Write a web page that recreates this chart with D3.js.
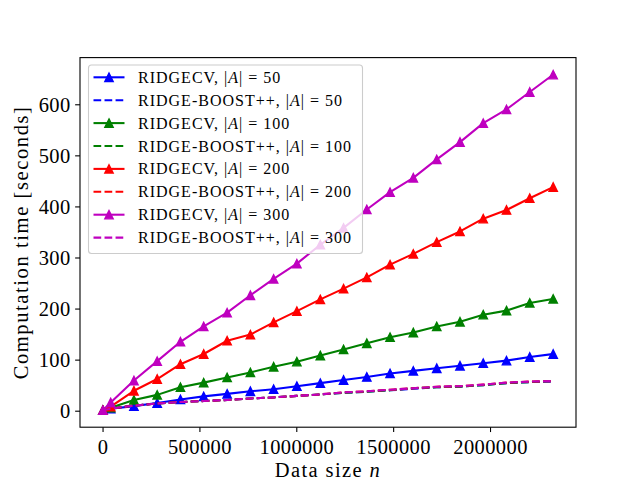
<!DOCTYPE html>
<html><head><meta charset="utf-8">
<script src="https://cdn.jsdelivr.net/npm/d3@7"></script>
<style>
body{margin:0;background:#fff}
svg{display:block}
text{font-family:"Liberation Serif","DejaVu Serif",serif;fill:#000}
</style>
</head><body>
<svg id="c" width="640" height="480"></svg>
<script>
// ---- data ----
const dataSize = [2000, 42000, 162000, 282000, 402000, 522000, 643000, 763000, 883000, 1003000,
  1124000, 1244000, 1364000, 1484000, 1604000, 1725000, 1845000, 1965000, 2085000, 2205000, 2326000];
const ridgecv50   = [1, 4, 9, 15, 22, 28, 33, 38, 42, 48, 54, 60, 66, 73, 78, 83, 88, 93, 98, 105, 111];
const boost50     = [1, 4, 10, 14, 17, 19, 21, 24, 26, 29, 32, 35, 37, 40, 43, 46, 47, 50, 54, 56, 57];
const ridgecv100  = [1, 6, 21, 31, 46, 55, 65, 75, 86, 96, 108, 120, 132, 144, 153, 165, 174, 188, 196, 211, 219];
const boost100    = [1, 4, 10, 14, 17, 19, 21, 24, 26, 29, 32, 35, 37, 40, 44, 46, 47, 50, 54, 56, 58];
const ridgecv200  = [1, 8, 39, 62, 91, 111, 137, 149, 173, 195, 218, 239, 261, 286, 307, 330, 351, 376, 393, 416, 438];
const boost200    = [1, 4, 10, 14, 17, 19, 21, 24, 26, 29, 32, 36, 38, 41, 44, 47, 48, 51, 55, 57, 58];
const ridgecv300  = [1, 16, 59, 97, 135, 165, 192, 226, 258, 288, 325, 358, 394, 428, 456, 492, 526, 563, 590, 624, 658];
const boost300    = [1, 4, 10, 14, 17, 19, 21, 24, 26, 29, 32, 36, 38, 41, 44, 47, 48, 51, 55, 57, 58];
const featureCounts = ["50", "100", "200", "300"];
const xTicks = [0, 500000, 1000000, 1500000, 2000000];
const yTicks = [0, 100, 200, 300, 400, 500, 600];
const xDomain = [-116400, 2443800];
const yDomain = [-32.3, 691.4];

const seriesList = [
  {name:"RIDGECV", k:featureCounts[0], values:ridgecv50, color:"#0000ff", dashed:false},
  {name:"RIDGE-BOOST++", k:featureCounts[0], values:boost50, color:"#0000ff", dashed:true},
  {name:"RIDGECV", k:featureCounts[1], values:ridgecv100, color:"#008000", dashed:false},
  {name:"RIDGE-BOOST++", k:featureCounts[1], values:boost100, color:"#008000", dashed:true},
  {name:"RIDGECV", k:featureCounts[2], values:ridgecv200, color:"#ff0000", dashed:false},
  {name:"RIDGE-BOOST++", k:featureCounts[2], values:boost200, color:"#ff0000", dashed:true},
  {name:"RIDGECV", k:featureCounts[3], values:ridgecv300, color:"#bf00bf", dashed:false},
  {name:"RIDGE-BOOST++", k:featureCounts[3], values:boost300, color:"#bf00bf", dashed:true}
];

// ---- layout ----
const L = 80, R = 576, T = 57.6, B = 427.2;
const svg = d3.select("#c");
const x = d3.scaleLinear().domain(xDomain).range([L, R]);
const y = d3.scaleLinear().domain(yDomain).range([B, T]);
const LW = 2.08, MS = 4.17, DASH = "7.7,3.33";
const tri = (cx, cy) => `M${cx},${cy - MS}L${cx + MS},${cy + MS}L${cx - MS},${cy + MS}Z`;

const plot = svg.append("g");
svg.append("defs").append("clipPath").attr("id","clip")
  .append("rect").attr("x",L).attr("y",T).attr("width",R-L).attr("height",B-T);
plot.attr("clip-path","url(#clip)");

const line = d3.line().x(d => x(d[0])).y(d => y(d[1]));
seriesList.forEach(s => {
  const pts = dataSize.map((v, i) => [v, s.values[i]]);
  plot.append("path").attr("d", line(pts)).attr("fill","none")
    .attr("stroke", s.color).attr("stroke-width", LW)
    .attr("stroke-dasharray", s.dashed ? DASH : null)
    .attr("stroke-linejoin","round").attr("stroke-linecap", s.dashed ? "butt" : "square");
  if (!s.dashed) {
    plot.selectAll(null).data(pts).enter().append("path")
      .attr("d", d => tri(x(d[0]), y(d[1])))
      .attr("fill", s.color).attr("stroke", s.color).attr("stroke-width", 1.39)
      .attr("stroke-linejoin","miter");
  }
});

// ---- axes ----
const fmt = d3.format("d");
const xAxis = svg.append("g").attr("transform", `translate(0,${B})`)
  .call(d3.axisBottom(x).tickValues(xTicks).tickFormat(fmt).tickSize(4.86).tickPadding(4).tickSizeOuter(0));
const yAxis = svg.append("g").attr("transform", `translate(${L},0)`)
  .call(d3.axisLeft(y).tickValues(yTicks).tickFormat(fmt).tickSize(4.86).tickPadding(4.5).tickSizeOuter(0));
[xAxis, yAxis].forEach(a => {
  a.select(".domain").remove();
  a.selectAll(".tick line").attr("stroke","#000").attr("stroke-width",1.1);
  a.selectAll(".tick text").attr("font-size","20.5px").attr("font-family",null).attr("fill","#000")
    .attr("letter-spacing","0.4px");
});
xAxis.selectAll(".tick text").attr("dy", null).attr("y", 26.8);
yAxis.selectAll(".tick text").attr("dy","0.34em");

svg.append("rect").attr("x",L).attr("y",T).attr("width",R-L).attr("height",B-T)
  .attr("fill","none").attr("stroke","#000").attr("stroke-width",1.1);

// axis labels
const xl = svg.append("text").attr("x",(L+R)/2).attr("y",477).attr("text-anchor","middle")
  .attr("font-size","20.5px").attr("letter-spacing","1.4px");
xl.append("tspan").text("Data size ");
xl.append("tspan").attr("font-style","italic").text("n");
svg.append("text").attr("transform",`translate(27.5,${(T+B)/2}) rotate(-90)`)
  .attr("text-anchor","middle").attr("font-size","20.5px").attr("letter-spacing","1.6px")
  .text("Computation time [seconds]");

// ---- legend ----
const lg = svg.append("g");
lg.append("rect").attr("x",88.5).attr("y",65).attr("width",274).attr("height",188.5)
  .attr("rx",3).attr("fill","#fff").attr("fill-opacity",0.8).attr("stroke","#cccccc").attr("stroke-width",1.1);
seriesList.forEach((s, i) => {
  const cy = 77.3 + i * 22.9;
  lg.append("line").attr("x1",93.5).attr("x2",124.5).attr("y1",cy).attr("y2",cy)
    .attr("stroke",s.color).attr("stroke-width",LW).attr("stroke-dasharray", s.dashed ? DASH : null);
  if (!s.dashed) lg.append("path").attr("d", tri(109, cy)).attr("fill",s.color).attr("stroke",s.color).attr("stroke-width",1.39);
  const t = lg.append("text").attr("x",138).attr("y",cy+5.5).attr("font-size","16px").attr("letter-spacing","1px");
  t.append("tspan").text(s.name + ", |");
  t.append("tspan").attr("font-style","italic").text("A");
  t.append("tspan").text("| = " + s.k);
});
</script>
</body></html>
